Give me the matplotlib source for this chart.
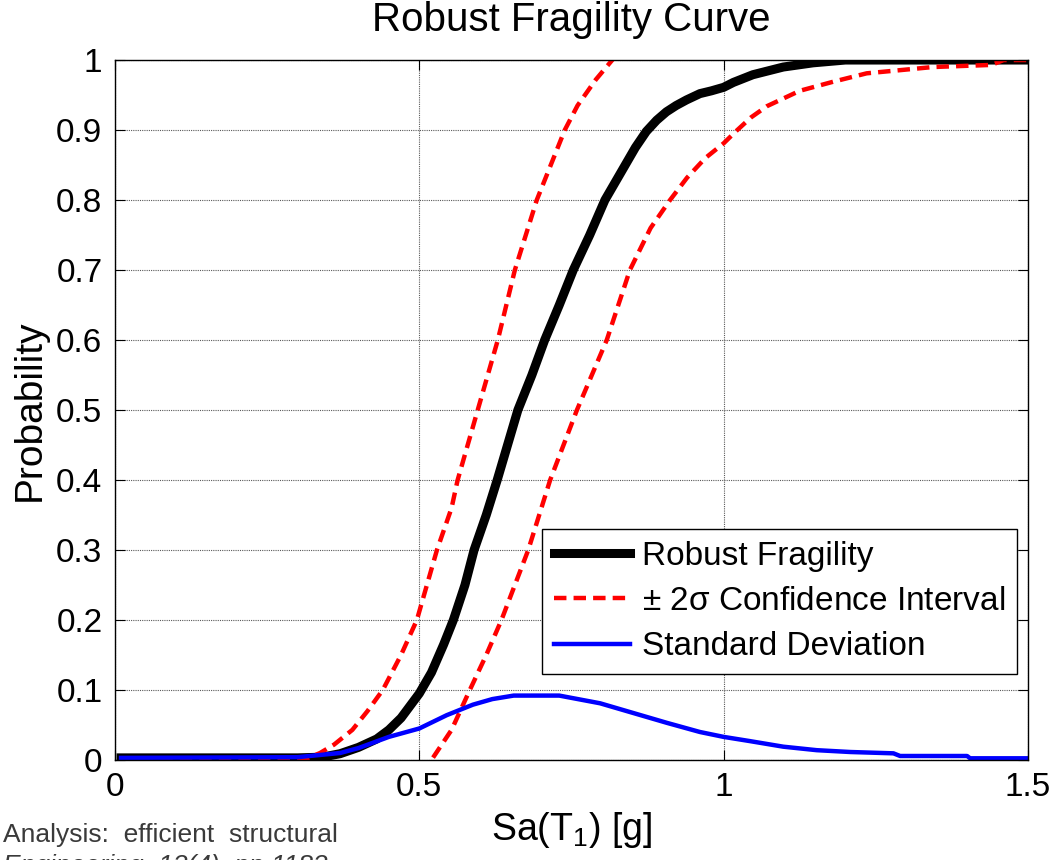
import numpy as np
import matplotlib
matplotlib.use('Agg')
import matplotlib.pyplot as plt

plt.rcParams['font.family'] = ['Liberation Sans', 'DejaVu Sans']
plt.rcParams['mathtext.fontset'] = 'custom'
plt.rcParams['mathtext.rm'] = 'Liberation Sans'
plt.rcParams['mathtext.it'] = 'Liberation Sans:italic'

# robust fragility (mean curve)
sa_mean = [0.01, 0.30, 0.34, 0.37, 0.40, 0.43, 0.45, 0.47, 0.50, 0.52, 0.54, 0.556,
           0.575, 0.59, 0.61, 0.628, 0.645, 0.662, 0.685, 0.706, 0.73, 0.753, 0.78,
           0.805, 0.835, 0.855, 0.873, 0.89, 0.906, 0.922, 0.939, 0.961, 0.98, 1.0,
           1.016, 1.048, 1.098, 1.147, 1.20, 1.5]
p_mean = [0.003, 0.003, 0.004, 0.009, 0.018, 0.03, 0.043, 0.06, 0.095, 0.125, 0.165, 0.2,
          0.25, 0.3, 0.35, 0.4, 0.45, 0.5, 0.55, 0.6, 0.65, 0.7, 0.75,
          0.8, 0.845, 0.875, 0.898, 0.914, 0.926, 0.935, 0.943, 0.952, 0.956, 0.961,
          0.968, 0.979, 0.99, 0.996, 1.0, 1.0]

# +2 sigma bound
sa_up = [0.01, 0.31, 0.337, 0.36, 0.39, 0.415, 0.44, 0.47, 0.496, 0.529, 0.553, 0.563,
         0.596, 0.629, 0.657, 0.693, 0.739, 0.76, 0.79, 0.817, 0.835]
p_up = [0.0, 0.0, 0.01, 0.022, 0.043, 0.07, 0.1, 0.15, 0.2, 0.3, 0.36, 0.4,
        0.5, 0.6, 0.7, 0.8, 0.9, 0.935, 0.972, 1.0, 1.02]

# -2 sigma bound
sa_lo = [0.505, 0.52, 0.553, 0.583, 0.61, 0.635, 0.679, 0.715, 0.759, 0.808, 0.846,
         0.88, 0.912, 0.94, 0.97, 1.0, 1.02, 1.045, 1.071, 1.125, 1.18, 1.235, 1.344,
         1.44, 1.46, 1.5]
p_lo = [-0.02, 0.0, 0.043, 0.1, 0.15, 0.2, 0.3, 0.4, 0.5, 0.6, 0.7,
        0.76, 0.8, 0.832, 0.86, 0.881, 0.898, 0.918, 0.934, 0.956, 0.969, 0.981, 0.99,
        0.993, 1.0, 1.0]

# standard deviation
sa_std = [0.01, 0.30, 0.37, 0.40, 0.45, 0.50, 0.545, 0.588, 0.62, 0.655, 0.73, 0.797,
          0.852, 0.907, 0.961, 1.0, 1.043, 1.098, 1.153, 1.208, 1.279, 1.29, 1.40,
          1.405, 1.5]
p_std = [0.003, 0.004, 0.01, 0.017, 0.033, 0.045, 0.064, 0.079, 0.087, 0.092, 0.092, 0.081,
         0.067, 0.053, 0.04, 0.033, 0.027, 0.019, 0.014, 0.0114, 0.0095, 0.0057, 0.0057,
         0.0024, 0.0024]

xticks = [0, 0.5, 1, 1.5]
xticklabels = ['0', '0.5', '1', '1.5']
yticks = [0, 0.1, 0.2, 0.3, 0.4, 0.5, 0.6, 0.7, 0.8, 0.9, 1]
yticklabels = ['0', '0.1', '0.2', '0.3', '0.4', '0.5', '0.6', '0.7', '0.8', '0.9', '1']

fig = plt.figure(figsize=(10.5, 8.6), dpi=100)
ax = fig.add_axes([0.1095, 0.1163, 0.8695, 0.8139])

ax.plot(sa_mean, p_mean, color='k', lw=6.5, label='Robust Fragility')
ax.plot(sa_up, p_up, color='r', lw=3.2, dashes=(2.8, 1.6), label='$\\pm$ 2σ Confidence Interval')
ax.plot(sa_lo, p_lo, color='r', lw=3.2, dashes=(2.8, 1.6))
ax.plot(sa_std, p_std, color='b', lw=3.2, label='Standard Deviation')

ax.set_xlim(0, 1.5)
ax.set_ylim(0, 1)
ax.set_xticks(xticks)
ax.set_xticklabels(xticklabels)
ax.set_yticks(yticks)
ax.set_yticklabels(yticklabels)
ax.tick_params(direction='in', length=7, width=0.8, top=True, right=True,
               labelsize=24, pad=9)
ax.grid(True, color='0.35', linestyle=(0, (1, 1)), linewidth=0.8)
for s in ax.spines.values():
    s.set_linewidth(1.0)

ax.set_title('Robust Fragility Curve', fontsize=29, pad=21)
ax.set_xlabel('Sa(T$_1$) [g]', fontsize=27)
ax.set_ylabel('Probability', fontsize=28)
ax.xaxis.set_label_coords(0.5, -0.072)
ax.yaxis.set_label_coords(-0.074, 0.5)

leg = ax.legend(loc='lower right', bbox_to_anchor=(0.988, 0.123), borderaxespad=0,
                fontsize=24, fancybox=False, framealpha=1, edgecolor='k',
                handlelength=2.3, handletextpad=0.35, labelspacing=0.43,
                borderpad=0.35)
leg.get_frame().set_linewidth(1.0)

# cropped caption text from the source page
fig.text(0.003, (860 - 842) / 860, 'Analysis:  efficient  structural', fontsize=19,
         color='#3a3a3a', va='baseline', ha='left')
fig.text(0.003, (860 - 873) / 860, 'Engineering, 13(4), pp.1183', fontsize=19,
         color='#3a3a3a', va='baseline', ha='left', style='italic')

fig.savefig('out.png', dpi=100)
